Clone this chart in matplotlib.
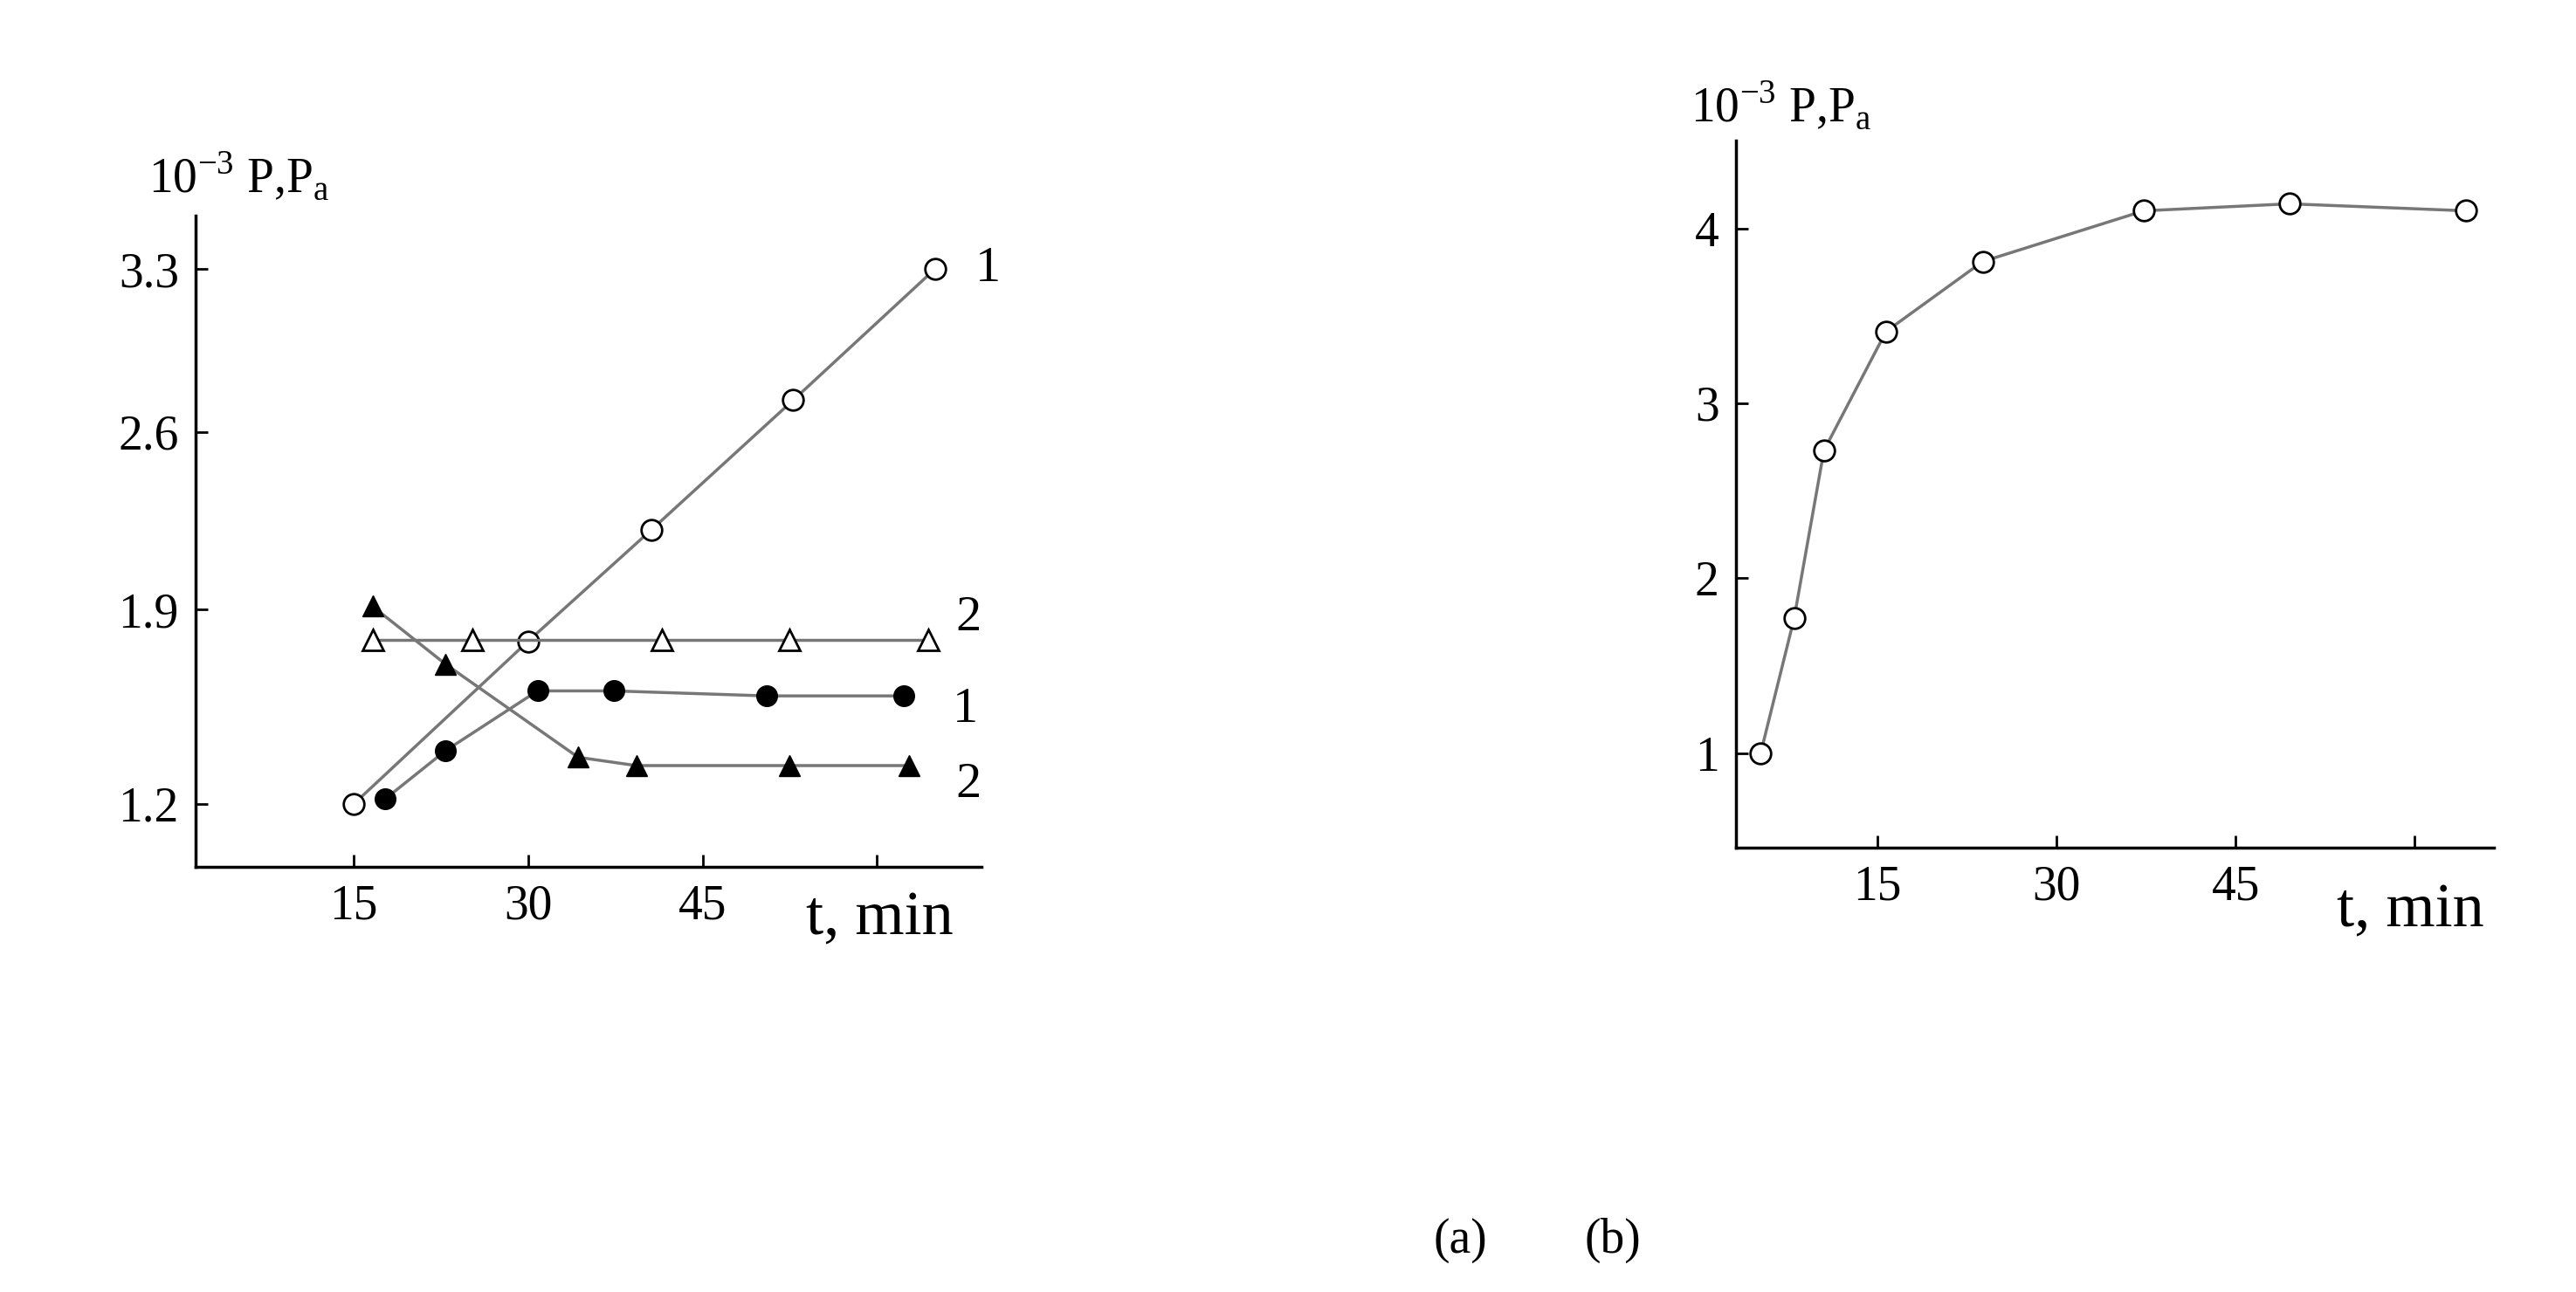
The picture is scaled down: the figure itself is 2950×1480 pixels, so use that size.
import numpy as np
import matplotlib.pyplot as plt

plt.rcParams['font.family'] = ['Liberation Serif', 'DejaVu Serif']
plt.rcParams['mathtext.fontset'] = 'custom'
plt.rcParams['mathtext.rm'] = 'Liberation Serif'

# panel (a)
t_open_c = [15, 30, 40.6, 52.8, 65]
p_open_c = [1.2, 1.786, 2.214, 2.736, 3.3]
t_fill_c = [17.7, 22.9, 30.8, 37.4, 50.5, 62.3]
p_fill_c = [1.218, 1.392, 1.607, 1.607, 1.589, 1.589]
t_open_t = [16.6, 25.2, 41.5, 52.5, 64.4]
p_open_t = [1.792, 1.792, 1.792, 1.792, 1.792]
t_fill_t = [16.6, 22.9, 34.3, 39.3, 52.5, 62.8]
p_fill_t = [1.913, 1.703, 1.368, 1.338, 1.338, 1.338]
yticks_a = [1.2, 1.9, 2.6, 3.3]
# the original axis is unevenly drawn: relative position of each tick
ytick_pos_a = [0.0, 117, 224, 322]

# panel (b)
t_b = [5.2, 8.0, 10.5, 15.7, 23.8, 37.3, 49.5, 64.3]
p_b = [1.0, 1.77, 2.73, 3.41, 3.81, 4.1, 4.14, 4.1]
yticks_b = [1, 2, 3, 4]

xticks = [15, 30, 45, 60]
xlabels = ['15', '30', '45', '']

vals_ext = [0.0] + yticks_a + [5.0]
pos_ext = [-1.2 * 117 / 0.7] + ytick_pos_a + [322 + 1.7 * 98 / 0.7]

def fwd(v):
    return np.interp(v, vals_ext, pos_ext)

def inv(p):
    return np.interp(p, pos_ext, vals_ext)

fig = plt.figure(figsize=(29.5, 14.8), dpi=100)
ax1 = fig.add_axes([0.076, 0.329, 0.305, 0.504])
ax2 = fig.add_axes([0.674, 0.344, 0.294, 0.547])

lc = '#777777'
ms = 17
ax1.set_yscale('function', functions=(fwd, inv))
ax1.plot(t_open_c, p_open_c, '-o', color=lc, mfc='white', mec='black', ms=ms, lw=2.5, mew=2)
ax1.plot(t_fill_c, p_fill_c, '-o', color=lc, mfc='black', mec='black', ms=ms, lw=2.5)
ax1.plot(t_open_t, p_open_t, '-^', color=lc, mfc='white', mec='black', ms=ms, lw=2.5, mew=2)
ax1.plot(t_fill_t, p_fill_t, '-^', color=lc, mfc='black', mec='black', ms=ms, lw=2.5)
ax1.set_xlim(1.4, 69)
ax1.set_ylim(0.973, 3.529)
ax1.set_yticks(yticks_a)
ax1.set_yticklabels([f'{v:.1f}' for v in yticks_a])
ax1.minorticks_off()

ax2.plot(t_b, p_b, '-o', color=lc, mfc='white', mec='black', ms=ms, lw=2.5, mew=2)
ax2.set_xlim(3.15, 66.6)
ax2.set_ylim(0.46, 4.5)
ax2.set_yticks(yticks_b)

for ax in (ax1, ax2):
    ax.spines['top'].set_visible(False)
    ax.spines['right'].set_visible(False)
    ax.spines['left'].set_linewidth(2.5)
    ax.spines['bottom'].set_linewidth(2.5)
    ax.set_xticks(xticks)
    ax.set_xticklabels(xlabels)
    ax.tick_params(direction='in', length=10, width=2, labelsize=40, pad=14)

# labels
ax1.text(0.87, -0.08, 't, min', transform=ax1.transAxes, fontsize=52, ha='center', va='center')
ax2.text(0.89, -0.09, 't, min', transform=ax2.transAxes, fontsize=52, ha='center', va='center')
ax1.text(-0.06, 1.06, r'10$^{-3}$ P,P$_{\mathrm{a}}$', transform=ax1.transAxes, fontsize=40, ha='left', va='center')
ax2.text(-0.06, 1.05, r'10$^{-3}$ P,P$_{\mathrm{a}}$', transform=ax2.transAxes, fontsize=40, ha='left', va='center')

for x, y, s in [(68.5, 3.3, '1'), (66.8, 1.87, '2'), (66.5, 1.54, '1'), (66.8, 1.27, '2')]:
    ax1.text(x, y, s, fontsize=42, ha='left', va='center', clip_on=False)

fig.text(0.567, 0.04, '(a)', fontsize=40, ha='center', va='center')
fig.text(0.626, 0.04, '(b)', fontsize=40, ha='center', va='center')

fig.savefig('out.png')
